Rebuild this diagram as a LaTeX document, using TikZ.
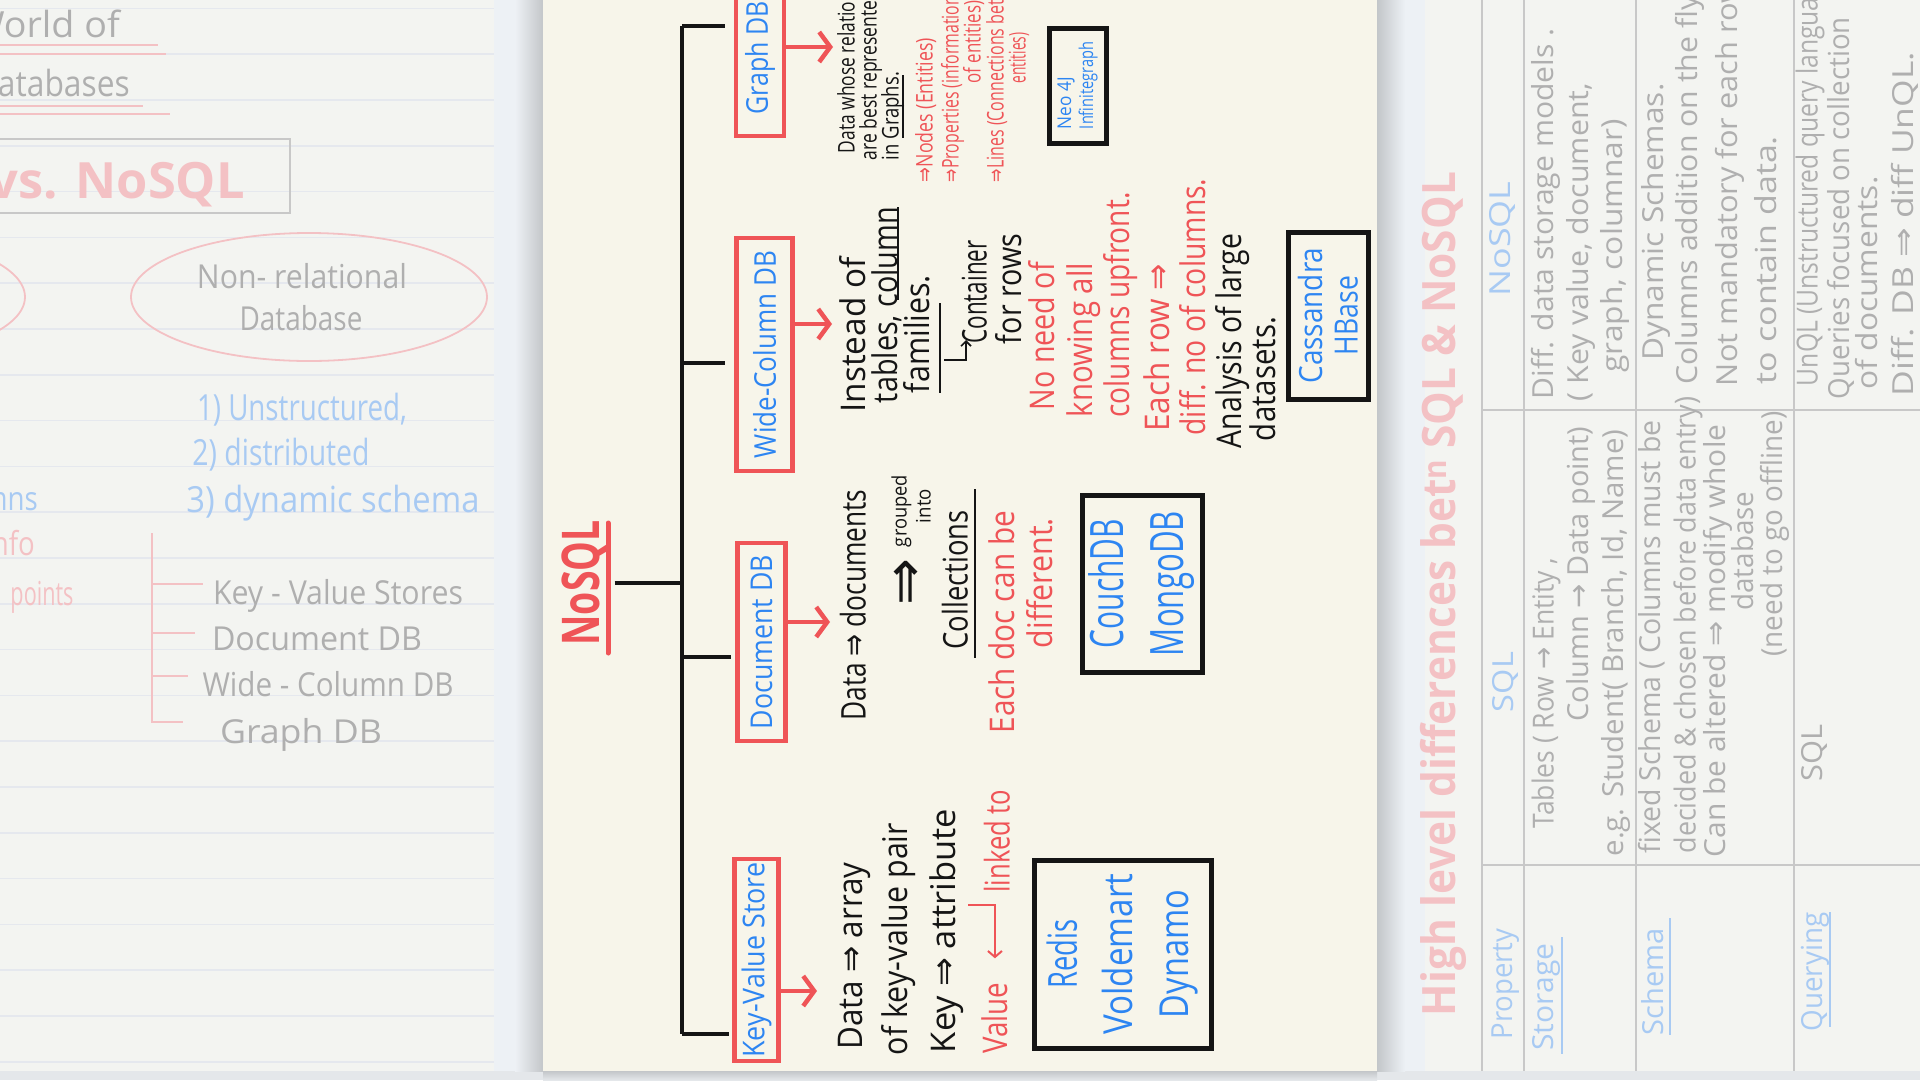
\documentclass[tikz,border=0pt]{standalone}
\usepackage{fontspec}
\setmainfont{Open Sans}
\newfontfamily\arwfont{DejaVu Sans}
\usetikzlibrary{arrows.meta}

\definecolor{desk}{HTML}{EDF1F5}
\definecolor{deskedge}{HTML}{E4E7EA}
\definecolor{deskshade}{HTML}{C3C6C9}
\definecolor{paper}{HTML}{F3F4F1}
\definecolor{cream}{HTML}{F7F5EA}
\definecolor{ink}{HTML}{151515}
\definecolor{pen}{HTML}{EF5457}
\definecolor{blueink}{HTML}{2D85F2}
\definecolor{fadegray}{HTML}{AFAFAF}
\definecolor{fadepink}{HTML}{F3C1C4}
\definecolor{fadeblue}{HTML}{A8CAF3}
\definecolor{ruling}{HTML}{E5E8EE}
\definecolor{tabline}{HTML}{C8C8C8}

% squeeze handwriting to a given length
\newcommand{\fitw}[2]{\resizebox{#1pt}{\height}{#2}}
\newcommand{\imp}{{\arwfont ⇒}}
\newcommand{\tto}{{\arwfont →}}

\begin{document}
\begin{tikzpicture}[x=1pt,y=-1pt,
    handrot/.style={xshift=#1,rotate=90,anchor=mid,inner sep=0pt},
    note/.style={handrot=10pt,text=ink,font=\fontsize{34}{40}\selectfont},
    rednote/.style={note,text=pen},
    tinynote/.style={handrot=6pt,text=ink,font=\fontsize{23}{26}\selectfont},
    tinyred/.style={tinynote,text=pen},
    catbox/.style={draw=pen,line width=4.5pt,rotate=90,inner sep=0pt,text=blueink,font=\fontsize{30}{34}\selectfont},
    exbox/.style={draw=ink,line width=5pt,rotate=90,inner sep=0pt,align=center,text=blueink},
    branch/.style={draw=ink,line width=4pt},
    redarrow/.style={draw=pen,line width=4.5pt,-{Straight Barb[length=11pt,width=30pt]}},
    uline/.style={draw=ink,line width=1.6pt},
    faded/.style={anchor=mid,inner sep=0pt,text=fadegray,font=\fontsize{33}{38}\selectfont},
    fadedmid/.style={faded,yshift=-10pt},
    fadedrot/.style={handrot=8pt,text=fadegray,font=\fontsize{29}{34}\selectfont},
    fadeline/.style={draw=#1,line width=1.8pt},
  ]
  \useasboundingbox (0,0) rectangle (1920,1080);
  \clip (0,0) rectangle (1920,1080);

  % desk and pages
  \fill[desk] (0,0) rectangle (1920,1080);
  \fill[deskedge] (0,1071) rectangle (1920,1080);
  \shade[left color=desk,right color=deskshade] (515,0) rectangle (543,1071);
  \shade[left color=deskshade,right color=desk] (1377,0) rectangle (1405,1071);
  \shade[top color=deskshade,bottom color=deskedge] (543,1071) rectangle (1377,1080);
  \fill[paper] (0,0) rectangle (494,1071);
  \fill[cream] (543,0) rectangle (1377,1071);
  \fill[paper] (1425,0) rectangle (1920,1071);
  \foreach \k in {0,...,23}
    \draw[ruling,line width=1.5pt] (0,{8.4+45.8*\k}) -- (494,{8.4+45.8*\k});

  % left page (faded)
  \node[faded,anchor=base east,font=\fontsize{36}{40}\selectfont] (lworld) at (120,37) {\fitw{150}{World of}};
  \draw[fadeline=fadepink] (0,45) -- (158,45) (0,54) -- (166,54);
  \node[faded,anchor=base east,font=\fontsize{36}{40}\selectfont] (ldbs) at (130,96) {\fitw{155}{Databases}};
  \draw[fadeline=fadepink] (0,106) -- (143,106) (0,114) -- (170,114);
  \draw[fadeline=tabline] (-10,139) rectangle (290,213);
  \node[faded,anchor=base east,text=fadepink,font=\bfseries\fontsize{50}{56}\selectfont] (lvs) at (245,198) {\fitw{365}{SQL vs. NoSQL}};
  \draw[fadeline=fadepink] (-153,297) ellipse [x radius=178,y radius=64];
  \draw[fadeline=fadepink] (309,297) ellipse [x radius=178,y radius=64];
  \node[fadedmid] (lnonrel) at (302,276) {\fitw{210}{Non- relational}};
  \node[fadedmid] (ldbase) at (301,318) {\fitw{123}{Database}};
  \node[fadedmid,text=fadeblue,font=\fontsize{36}{40}\selectfont] (lptA) at (302,408) {\fitw{210}{1) Unstructured,}};
  \node[fadedmid,text=fadeblue,font=\fontsize{36}{40}\selectfont] (lptB) at (281,453) {\fitw{177}{2) distributed}};
  \node[fadedmid,text=fadeblue,font=\fontsize{36}{40}\selectfont] (lptC) at (333,500) {\fitw{293}{3) dynamic schema}};
  \node[fadedmid,anchor=mid east,text=fadeblue] (lcols) at (38,498) {\fitw{110}{columns}};
  \node[fadedmid,anchor=mid east,text=fadepink] (linfo) at (35,543) {\fitw{50}{info}};
  \node[fadedmid,text=fadepink] (lpoints) at (42,593) {\fitw{63}{points}};
  \draw[fadeline=fadepink] (152,533) -- (152,722) -- (183,722)
    (152,584) -- (203,584) (152,633) -- (195,633) (152,676) -- (188,676);
  \node[fadedmid] (lkv) at (338,592) {\fitw{250}{Key - Value Stores}};
  \node[fadedmid] (ldoc) at (317,638) {\fitw{210}{Document DB}};
  \node[fadedmid] (lwide) at (328,684) {\fitw{251}{Wide - Column DB}};
  \node[fadedmid] (lgraph) at (301,731) {\fitw{162}{Graph DB}};

  % NoSQL tree
  \node[handrot=16pt,text=pen,font=\bfseries\fontsize{52}{56}\selectfont] (nosql) at (581,583) {\fitw{125}{NoSQL}};
  \draw[pen,line width=5pt,line cap=round] (608,523) -- (608,653);
  \coordinate (spinetop) at (682,26);
  \coordinate (spinebot) at (682,1034);
  \coordinate (wfork) at (682,363);
  \coordinate (dfork) at (682,657);
  \draw[branch] (spinetop) -- (spinebot);
  \draw[branch] ([xshift=6pt]nosql.south) -- (nosql.south -| spinetop);

  % categories
  \node[catbox,minimum width=156pt,minimum height=48pt] (graphbox) at (760,58) {\fitw{113}{Graph DB}};
  \node[catbox,minimum width=233pt,minimum height=56pt] (widebox) at (764.5,354.5) {\fitw{207}{Wide-Column DB}};
  \node[catbox,minimum width=198pt,minimum height=48pt] (docbox) at (761.5,642) {\fitw{174}{Document DB}};
  \node[catbox,minimum width=202pt,minimum height=44pt] (kvbox) at (756.5,960) {\fitw{195}{Key-Value Store}};
  \draw[branch,shorten >=9pt] (spinetop) -- (spinetop -| graphbox.north);
  \draw[branch,shorten >=9pt] (wfork) -- (wfork -| widebox.north);
  \draw[branch,shorten >=4pt] (dfork) -- (dfork -| docbox.north);
  \draw[branch,shorten >=3pt] (spinebot) -- (spinebot -| kvbox.north);

  % arrows to the notes
  \coordinate (graphtip) at (833,47);
  \coordinate (widetip) at (832,324);
  \coordinate (doctip) at (830,622);
  \coordinate (kvtip) at (817,991);
  \draw[redarrow] (graphtip -| graphbox.south) -- (graphtip);
  \draw[redarrow] (widetip -| widebox.south) -- (widetip);
  \draw[redarrow] (doctip -| docbox.south) -- (doctip);
  \draw[redarrow] (kvtip -| kvbox.south) -- (kvtip);

  % key-value notes
  \node[note] (kvA) at (850,956) {\fitw{187}{Data \imp\ array}};
  \node[note] (kvB) at (895,939) {\fitw{232}{of key-value pair}};
  \node[note] (kvC) at (943,931) {\fitw{244}{Key \imp\ attribute}};
  \node[rednote] (kvval) at (995,1018) {\fitw{71}{Value}};
  \node[rednote] (kvlink) at (997,841) {\fitw{103}{linked to}};
  \coordinate (linkhook) at (968,905);
  \draw[pen,line width=2pt,shorten >=24pt,-{Straight Barb[length=6pt,width=14pt]}] (linkhook) -| (kvval.east);
  \node[exbox,minimum width=188pt,minimum height=177pt,font=\fontsize{40}{56}\selectfont] (kvex) at (1122.5,954)
    {\fitw{69}{Redis}\\\fitw{161}{Voldemart}\\\fitw{128}{Dynamo}};

  % document notes
  \node[note] (docA) at (853,605) {\fitw{231}{Data \imp\ documents}};
  \node[note,handrot=16pt,font=\fontsize{56}{60}\selectfont] (docarrow) at (896,580) {\arwfont ⇓};
  \node[tinynote,font=\fontsize{20}{22}\selectfont] (docB) at (898,511) {\fitw{72}{grouped}};
  \node[tinynote,font=\fontsize{20}{22}\selectfont] (docC) at (922,506) {\fitw{34}{into}};
  \node[note] (docD) at (955,580) {\fitw{139}{Collections}};
  \draw[uline] (975,489) -- (975,658);
  \node[rednote] (docE) at (1002,622) {\fitw{223}{Each doc can be}};
  \node[rednote] (docF) at (1040,583) {\fitw{130}{different.}};
  \node[exbox,minimum width=177pt,minimum height=120pt,font=\fontsize{46}{60}\selectfont] (docex) at (1142,583.5)
    {\fitw{129}{CouchDB}\\\fitw{145}{MongoDB}};

  % wide-column notes
  \node[note] (wideA) at (853,335) {\fitw{155}{Instead of}};
  \node[note] (wideB) at (885,305) {\fitw{196}{tables, column}};
  \draw[uline] (898,207) -- (898,300);
  \node[note] (wideC) at (917,334) {\fitw{118}{families.}};
  \draw[uline] (940,303) -- (940,393);
  \draw[ink,line width=1.6pt,-{Straight Barb[length=5pt,width=10pt]}] (944,360) -- (966,360) -- (966,340);
  \node[note] (wideD) at (974,292) {\fitw{103}{Container}};
  \node[note] (wideE) at (1009,289) {\fitw{110}{for rows}};
  \node[rednote] (wideF) at (1042,336) {\fitw{148}{No need of}};
  \node[rednote] (wideG) at (1080,340) {\fitw{154}{knowing all}};
  \node[rednote] (wideH) at (1117,305) {\fitw{225}{columns upfront.}};
  \node[rednote] (wideI) at (1157,348) {\fitw{167}{Each row \imp}};
  \node[rednote] (wideJ) at (1193,307) {\fitw{257}{diff. no of columns.}};
  \node[note] (wideK) at (1229,341) {\fitw{214}{Analysis of large}};
  \node[note] (wideL) at (1263,379) {\fitw{124}{datasets.}};
  \node[exbox,minimum width=167pt,minimum height=80pt,font=\fontsize{32}{35}\selectfont] (wideex) at (1328,315.5)
    {\fitw{136}{Cassandra}\\\fitw{79}{HBase}};

  % graph notes
  \node[tinynote] (graphA) at (846,51) {\fitw{204}{Data whose relationships}};
  \node[tinynote] (graphB) at (868,75) {\fitw{170}{are best represented}};
  \node[tinynote] (graphC) at (890,116) {\fitw{88}{in Graphs.}};
  \draw[uline] (903,75) -- (903,138);
  \node[tinyred] (graphD) at (924,110) {\fitw{144}{\imp Nodes (Entities)}};
  \node[tinyred] (graphE) at (950,89) {\fitw{186}{\imp Properties (information}};
  \node[tinyred] (graphF) at (972,42) {\fitw{83}{of entities)}};
  \node[tinyred] (graphG) at (995,71) {\fitw{222}{\imp Lines (Connections between}};
  \node[tinyred] (graphH) at (1017,58) {\fitw{51}{entities)}};
  \node[exbox,align=left,minimum width=115pt,minimum height=57pt,font=\fontsize{19}{22}\selectfont] (graphex) at (1077.5,85.5)
    {\fitw{52}{Neo 4J}\\\fitw{87}{Infinitegraph}};

  % right page (faded table)
  \foreach \tx in {1482,1524,1636,1794}
    \draw[fadeline=tabline] (\tx,0) -- (\tx,1071);
  \draw[fadeline=tabline] (1482,410) -- (1920,410) (1482,865) -- (1920,865);
  \node[fadedrot,text=fadepink,font=\bfseries\fontsize{46}{50}\selectfont] (rtitle) at (1445,594)
    {\fitw{844}{High level differences bet\textsuperscript{n} SQL \& NoSQL}};
  \node[fadedrot,text=fadeblue] (rprop) at (1502,984) {\fitw{111}{Property}};
  \node[fadedrot,text=fadeblue] (rsql) at (1503,682) {\fitw{60}{SQL}};
  \node[fadedrot,text=fadeblue] (rnosql) at (1500,239) {\fitw{115}{NoSQL}};
  \node[fadedrot,text=fadeblue] (rstor) at (1543,997) {\fitw{107}{Storage}};
  \draw[fadeline=fadeblue] (1562,937) -- (1562,1054);
  \node[fadedrot] (rsA) at (1543,693) {\fitw{271}{Tables ( Row \tto\ Entity ,}};
  \node[fadedrot] (rsB) at (1578,574) {\fitw{295}{Column \tto\ Data point)}};
  \node[fadedrot] (rsC) at (1613,643) {\fitw{427}{e.g. Student( Branch, Id, Name)}};
  \node[fadedrot] (rnA) at (1543,214) {\fitw{371}{Diff. data storage models .}};
  \node[fadedrot] (rnB) at (1578,242) {\fitw{318}{( Key value, document,}};
  \node[fadedrot] (rnC) at (1612,246) {\fitw{253}{graph, columnar)}};
  \node[fadedrot,text=fadeblue] (rschema) at (1653,982) {\fitw{107}{Schema}};
  \draw[fadeline=fadeblue] (1670,918) -- (1670,1035);
  \node[fadedrot] (rsD) at (1650,637) {\fitw{433}{fixed Schema ( Columns must be}};
  \node[fadedrot] (rsE) at (1685,625) {\fitw{457}{decided \& chosen before data entry)}};
  \node[fadedrot] (rsF) at (1715,641) {\fitw{433}{Can be altered \imp\ modify whole}};
  \node[fadedrot] (rsG) at (1743,551) {\fitw{119}{database}};
  \node[fadedrot] (rsH) at (1772,534) {\fitw{245}{(need to go offline)}};
  \node[fadedrot] (rnD) at (1653,222) {\fitw{277}{Dynamic Schemas.}};
  \node[fadedrot] (rnE) at (1687,190) {\fitw{389}{Columns addition on the fly}};
  \node[fadedrot] (rnF) at (1727,183) {\fitw{406}{Not mandatory for each row}};
  \node[fadedrot] (rnG) at (1766,260) {\fitw{248}{to contain data.}};
  \node[fadedrot,text=fadeblue] (rquery) at (1812,972) {\fitw{119}{Querying}};
  \draw[fadeline=fadeblue] (1830,912) -- (1830,1027);
  \node[fadedrot] (rsI) at (1812,753) {\fitw{57}{SQL}};
  \node[fadedrot] (rnH) at (1807,178) {\fitw{416}{UnQL (Unstructured query language}};
  \node[fadedrot] (rnI) at (1839,208) {\fitw{382}{Queries focused on collection}};
  \node[fadedrot] (rnJ) at (1867,283) {\fitw{213}{of documents.}};
  \node[fadedrot] (rnK) at (1903,224) {\fitw{344}{Diff. DB \imp\ diff UnQL.}};
\end{tikzpicture}
\end{document}
